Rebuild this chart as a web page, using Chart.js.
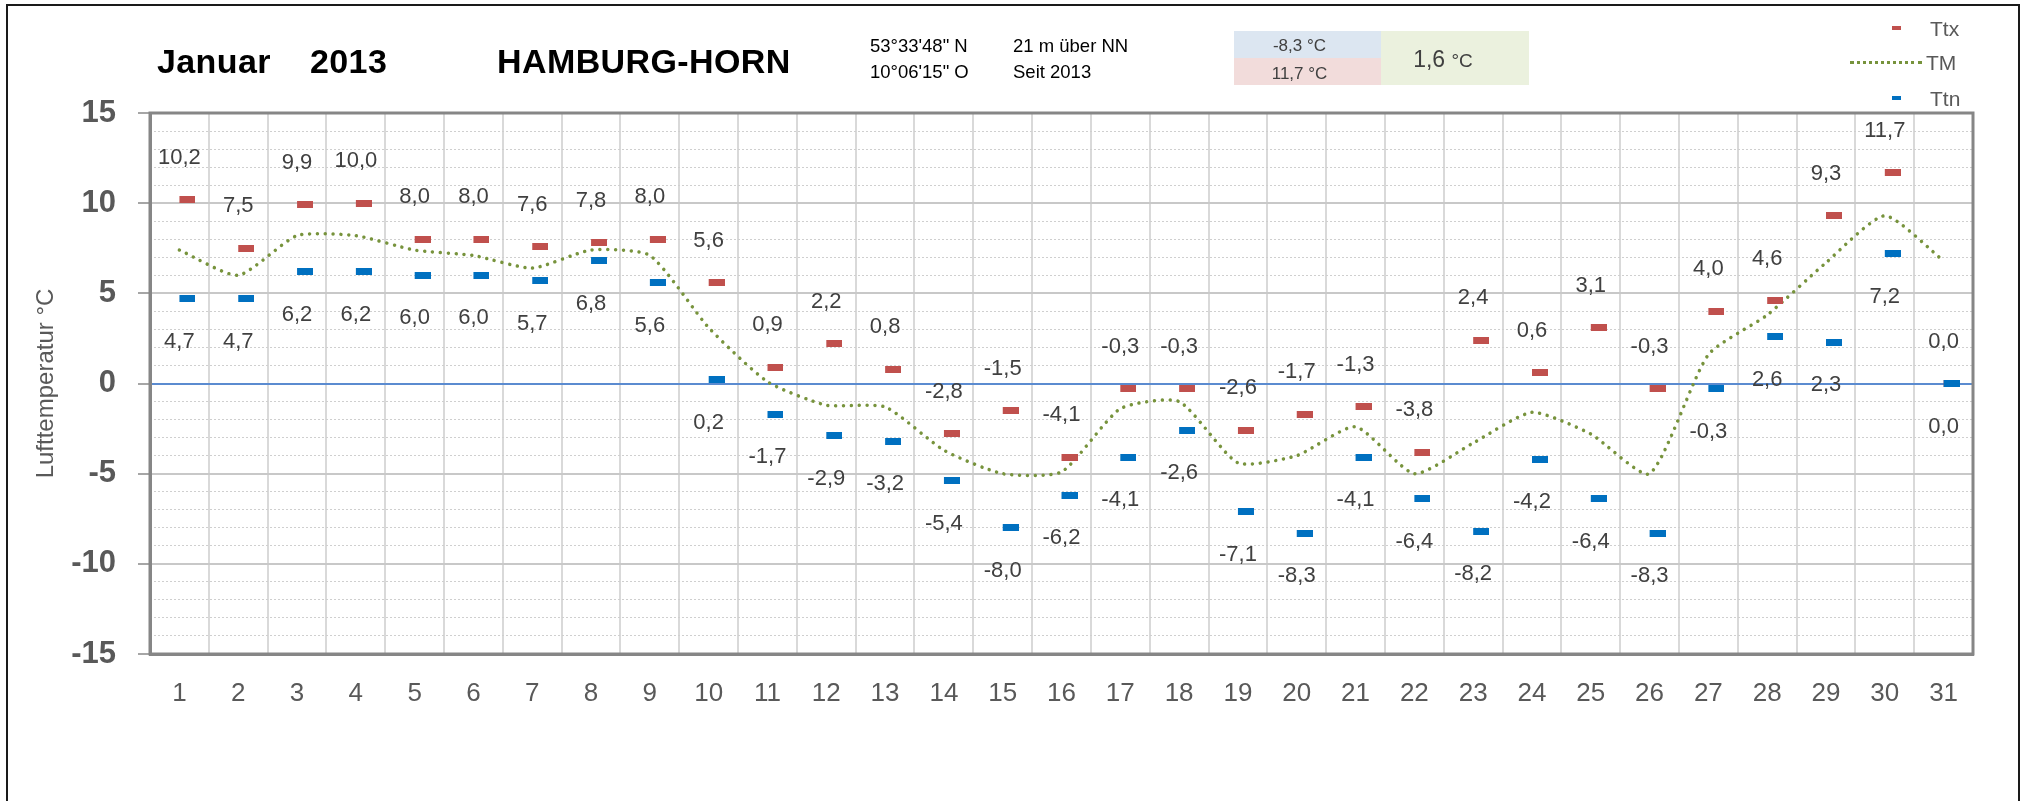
<!DOCTYPE html>
<html>
<head>
<meta charset="utf-8">
<script src="https://cdn.jsdelivr.net/npm/chart.js@4.4.1/dist/chart.umd.min.js"></script>
<style>
  body { margin: 0; background: #fff; font-family: "Liberation Sans", Arial, sans-serif; }
  #wrap { position: relative; width: 2025px; height: 801px; overflow: hidden; }
  #frame { position: absolute; left: 6px; top: 4px; width: 2010px; height: 820px; border: 2px solid #1a1a1a; }
  .t { position: absolute; line-height: 1; white-space: nowrap; }
  .big { font-size: 34px; font-weight: bold; color: #000; top: 44px; letter-spacing: 0.4px; }
  .small { font-size: 18.5px; color: #000; }
  .box { position: absolute; }
  .boxtxt { position: absolute; left: 0; right: 0; text-align: center; line-height: 1; color: #404040; }
  .leg { font-size: 21px; color: #595959; }
  canvas { position: absolute; left: 0; top: 0; }
</style>
</head>
<body>
<div id="wrap">
  <canvas id="myChart" width="2025" height="801"></canvas>
  <div id="frame"></div>

  <div class="t big" style="left:157px">Januar</div>
  <div class="t big" style="left:310px">2013</div>
  <div class="t big" style="left:497px">HAMBURG-HORN</div>

  <div class="t small" style="left:870px; top:37px">53°33'48" N</div>
  <div class="t small" style="left:870px; top:63px">10°06'15" O</div>
  <div class="t small" style="left:1013px; top:37px">21 m über NN</div>
  <div class="t small" style="left:1013px; top:63px">Seit 2013</div>

  <div class="box" style="left:1234px; top:31px; width:147px; height:27px; background:#dce6f1">
    <div class="boxtxt" style="top:6px; font-size:17px; padding-right:16px">-8,3 °C</div>
  </div>
  <div class="box" style="left:1234px; top:58px; width:147px; height:27px; background:#f2dcdb">
    <div class="boxtxt" style="top:7px; font-size:17px; padding-right:16px">11,7 °C</div>
  </div>
  <div class="box" style="left:1381px; top:31px; width:148px; height:54px; background:#ebf1de">
    <div class="boxtxt" style="top:17px; font-size:23px; padding-right:24px">1,6 <span style="font-size:19px">°C</span></div>
  </div>

  <div class="box" style="left:1892px; top:26px; width:9px; height:4px; background:#c0504d"></div>
  <div class="t leg" style="left:1930px; top:18px">Ttx</div>
  <div class="box" style="left:1850px; top:61px; width:72px; height:0; border-top:3px dotted #77933c"></div>
  <div class="t leg" style="left:1926px; top:52px">TM</div>
  <div class="box" style="left:1892px; top:96px; width:9px; height:4px; background:#0070c0"></div>
  <div class="t leg" style="left:1930px; top:88px">Ttn</div>
</div>

<script>
// Tageswerte Januar 2013, Hamburg-Horn
var days = ['1','2','3','4','5','6','7','8','9','10','11','12','13','14','15','16',
            '17','18','19','20','21','22','23','24','25','26','27','28','29','30','31'];
var ttx = [10.2, 7.5, 9.9, 10.0, 8.0, 8.0, 7.6, 7.8, 8.0, 5.6, 0.9, 2.2, 0.8, -2.8, -1.5, -4.1,
           -0.3, -0.3, -2.6, -1.7, -1.3, -3.8, 2.4, 0.6, 3.1, -0.3, 4.0, 4.6, 9.3, 11.7, 0.0];
var ttn = [4.7, 4.7, 6.2, 6.2, 6.0, 6.0, 5.7, 6.8, 5.6, 0.2, -1.7, -2.9, -3.2, -5.4, -8.0, -6.2,
           -4.1, -2.6, -7.1, -8.3, -4.1, -6.4, -8.2, -4.2, -6.4, -8.3, -0.3, 2.6, 2.3, 7.2, 0.0];
var tm  = [7.4, 6.0, 8.2, 8.2, 7.4, 7.1, 6.4, 7.4, 7.1, 3.1, 0.1, -1.2, -1.3, -3.7, -5.0, -4.9,
           -1.4, -1.0, -4.4, -4.0, -2.4, -5.0, -3.3, -1.6, -2.8, -5.0, 1.6, 3.8, 6.7, 9.3, 6.8];
var yTicks = [-15, -10, -5, 0, 5, 10, 15];

// small dash marker, sitting right of the category centre like in Excel
function dash(color) {
    var c = document.createElement('canvas');
    c.width = 32; c.height = 7;
    var g = c.getContext('2d');
    g.fillStyle = color;
    g.fillRect(16, 0, 16, 7);
    return c;
}

function fmt(v) { return v.toFixed(1).replace('.', ','); }

var plotFrame = {
    id: 'plotFrame',
    beforeDatasetsDraw: function (chart) {
        var a = chart.chartArea, ctx = chart.ctx;
        ctx.save();
        ctx.strokeStyle = '#868686';
        ctx.lineWidth = 3;
        ctx.strokeRect(a.left, a.top, a.right - a.left, a.bottom - a.top);
        ctx.restore();
    }
};

var valueLabels = {
    id: 'valueLabels',
    afterDatasetsDraw: function (chart) {
        var ctx = chart.ctx;
        ctx.save();
        ctx.font = '22px "Liberation Sans", Arial, sans-serif';
        ctx.fillStyle = '#404040';
        ctx.textAlign = 'center';
        ctx.textBaseline = 'middle';
        chart.data.datasets.forEach(function (ds, i) {
            if (ds.labelShift === undefined) return;
            chart.getDatasetMeta(i).data.forEach(function (pt, j) {
                ctx.fillText(fmt(ds.data[j]), pt.x, pt.y + ds.labelShift);
            });
        });
        ctx.restore();
    }
};

var ctx = document.getElementById('myChart').getContext('2d');
var myChart = new Chart(ctx, {
    type: 'line',
    data: {
        labels: days,
        datasets: [{
            label: 'Ttn',
            data: ttn,
            showLine: false,
            pointStyle: dash('#0070c0'),
            pointRadius: 8,
            labelShift: 43,
            order: 1
        }, {
            label: 'Ttx',
            data: ttx,
            showLine: false,
            pointStyle: dash('#c0504d'),
            pointRadius: 8,
            labelShift: -42,
            order: 2
        }, {
            label: 'TM',
            data: tm,
            borderColor: '#77933c',
            borderWidth: 3.5,
            borderDash: [0.01, 7.8],
            borderCapStyle: 'round',
            tension: 0.2,
            pointRadius: 0,
            fill: false,
            order: 3
        }]
    },
    options: {
        responsive: false,
        animation: false,
        devicePixelRatio: 1,
        layout: { padding: { top: 113, right: 52, bottom: 0, left: 0 } },
        plugins: { legend: { display: false }, tooltip: { enabled: false } },
        scales: {
            x: {
                type: 'category',
                offset: true,
                grid: { offset: true, color: '#d9d9d9', lineWidth: 2, drawTicks: false },
                border: { color: '#868686', width: 3 },
                ticks: { color: '#595959', font: { family: '"Liberation Sans", Arial, sans-serif', size: 26 }, padding: 24, maxRotation: 0, autoSkip: false },
                afterFit: function (s) { s.height = 147; }
            },
            yMinor: {
                position: 'left',
                min: -15, max: 15,
                ticks: { display: false, stepSize: 1 },
                grid: {
                    drawTicks: false,
                    lineWidth: 1,
                    color: function (c) { return (c.tick && c.tick.value % 5 === 0) ? 'rgba(0,0,0,0)' : '#cfcfcf'; }
                },
                border: { display: false, dash: [2, 2] },
                afterFit: function (s) { s.width = 0; }
            },
            y: {
                position: 'left',
                min: yTicks[0], max: yTicks[yTicks.length - 1],
                afterBuildTicks: function (s) { s.ticks = yTicks.map(function (v) { return { value: v }; }); },
                ticks: { color: '#595959', font: { family: '"Liberation Sans", Arial, sans-serif', size: 31, weight: 'bold' }, padding: 22 },
                grid: {
                    tickLength: 12,
                    tickColor: '#a6a6a6',
                    tickWidth: 2,
                    lineWidth: 2,
                    color: function (c) { return (c.tick && c.tick.value === 0) ? '#5b8bd0' : '#c8c8c8'; }
                },
                border: { color: '#868686', width: 3 },
                title: {
                    display: true,
                    text: 'Lufttemperatur °C',
                    color: '#595959',
                    font: { family: '"Liberation Sans", Arial, sans-serif', size: 24 },
                    padding: { top: 32, bottom: 0 }
                },
                afterFit: function (s) { s.width = 150; }
            }
        }
    },
    plugins: [plotFrame, valueLabels]
});
</script>
</body>
</html>
